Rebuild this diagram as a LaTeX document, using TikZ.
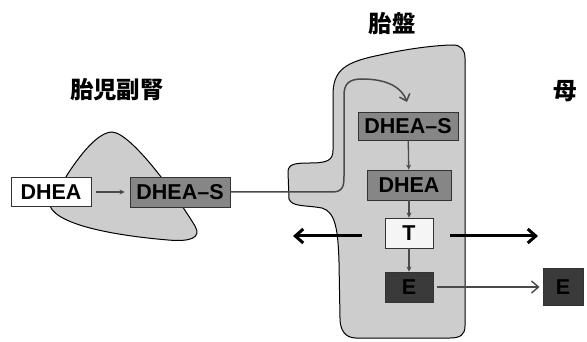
\documentclass[tikz,border=0pt]{standalone}
\usepackage{fontspec}
\setmainfont{Liberation Sans}
\newfontfamily\cjk{Noto Sans CJK JP}
\usetikzlibrary{arrows.meta}
\definecolor{organ}{HTML}{CDCDCD}
\definecolor{midgray}{HTML}{868686}
\definecolor{darkbox}{HTML}{3A3A3A}
\definecolor{linegray}{HTML}{4A4A4A}
\tikzset{
  lbl/.style={font=\cjk\bfseries\fontsize{23.5}{26}\selectfont, inner sep=0pt},
  mbox/.style={draw=black!80, line width=0.9pt, inner sep=0pt, font=\bfseries\fontsize{21.5}{24}\selectfont},
  organshape/.style={draw=black, line width=1pt, fill=organ},
  smallarr/.style={draw=linegray, line width=1.3pt, -{Stealth[length=5pt,width=5pt]}},
  bigarr/.style={draw=black, line width=3pt, -{Straight Barb[length=8pt,width=14pt,line width=3pt]}},
  thinarr/.style={draw=linegray, line width=1.4pt, -{Straight Barb[length=7pt,width=12pt,line width=1.4pt]}}
}
\begin{document}
\begin{tikzpicture}[x=1pt,y=-1pt]
\useasboundingbox (0,0) rectangle (587,342);
% fetal adrenal blob
\draw[organshape] (50,206) .. controls (62,180) and (92,132) .. (112,132)
  .. controls (132,133) and (178,198) .. (195,226)
  .. controls (202,238) and (190,242) .. (168,240)
  .. controls (120,236) and (58,226) .. (50,206) -- cycle;
% placenta
\draw[organshape] (333,150) -- (333,95) .. controls (333,70) and (345,62) .. (380,55)
  .. controls (410,48) and (440,45) .. (453,45)
  .. controls (461,45) and (465,50) .. (465,58) -- (465,326)
  .. controls (465,335) and (460,338) .. (450,338) -- (356,338)
  .. controls (345,338) and (340,330) .. (340,318) -- (339,262)
  .. controls (338,228) and (335,212) .. (322,208)
  .. controls (305,205) and (292,207) .. (289,199) -- (288,172)
  .. controls (288,164) and (295,163) .. (310,163)
  .. controls (328,163) and (333,160) .. (333,150) -- cycle;
% labels
\node[lbl] (fa) at (117,90) {胎児副腎};
\node[lbl] (pl) at (392,24) {胎盤};
\node[lbl] (mo) at (565,91) {母};
% fetal boxes
\node[mbox, fill=white, minimum width=80pt, minimum height=29pt] (fd) at (51,192) {DHEA};
\node[mbox, fill=midgray, minimum width=100pt, minimum height=30pt] (fds) at (180,192) {DHEA--S};
% placenta boxes
\node[mbox, fill=midgray, minimum width=100pt, minimum height=28pt] (pds) at (408,126) {DHEA--S};
\node[mbox, fill=midgray, minimum width=84pt, minimum height=30pt] (pd) at (409,185) {DHEA};
\node[mbox, fill=black!4, minimum width=48pt, minimum height=30pt] (pt) at (409,233) {T};
\node[mbox, fill=darkbox, minimum width=48pt, minimum height=30pt] (pe) at (409,287) {E};
% maternal E
\node[mbox, fill=darkbox, minimum width=40pt, minimum height=37pt] (me) at (563,287) {E};
% coordinates for free ends
\coordinate (bendA) at (332,192);
\coordinate (tipA) at (407,102);
\coordinate (lstart) at (362,236);
\coordinate (lend) at (293,236);
\coordinate (rstart) at (450,236);
\coordinate (rend) at (538,236);
% connectors
\draw[smallarr, shorten <=5pt, shorten >=5pt] (fd) -- (fds);
\draw[draw=linegray, line width=1.5pt, -{Straight Barb[length=6pt,width=11pt,line width=1.5pt]}]
  (fds.east) -- (bendA) .. controls (343,192) and (344,186) .. (344,176) -- (344,95)
  .. controls (344,83) and (350,79) .. (362,79)
  .. controls (388,79) and (402,88) .. (tipA);
\draw[smallarr] (pds) -- (pd);
\draw[smallarr] (pd) -- (pt);
\draw[smallarr] (pt) -- (pe);
\draw[bigarr] (lstart) -- (lend);
\draw[bigarr] (rstart) -- (rend);
\draw[thinarr, shorten <=4pt, shorten >=3pt] (pe.east) -- (me.west);
\end{tikzpicture}
\end{document}
